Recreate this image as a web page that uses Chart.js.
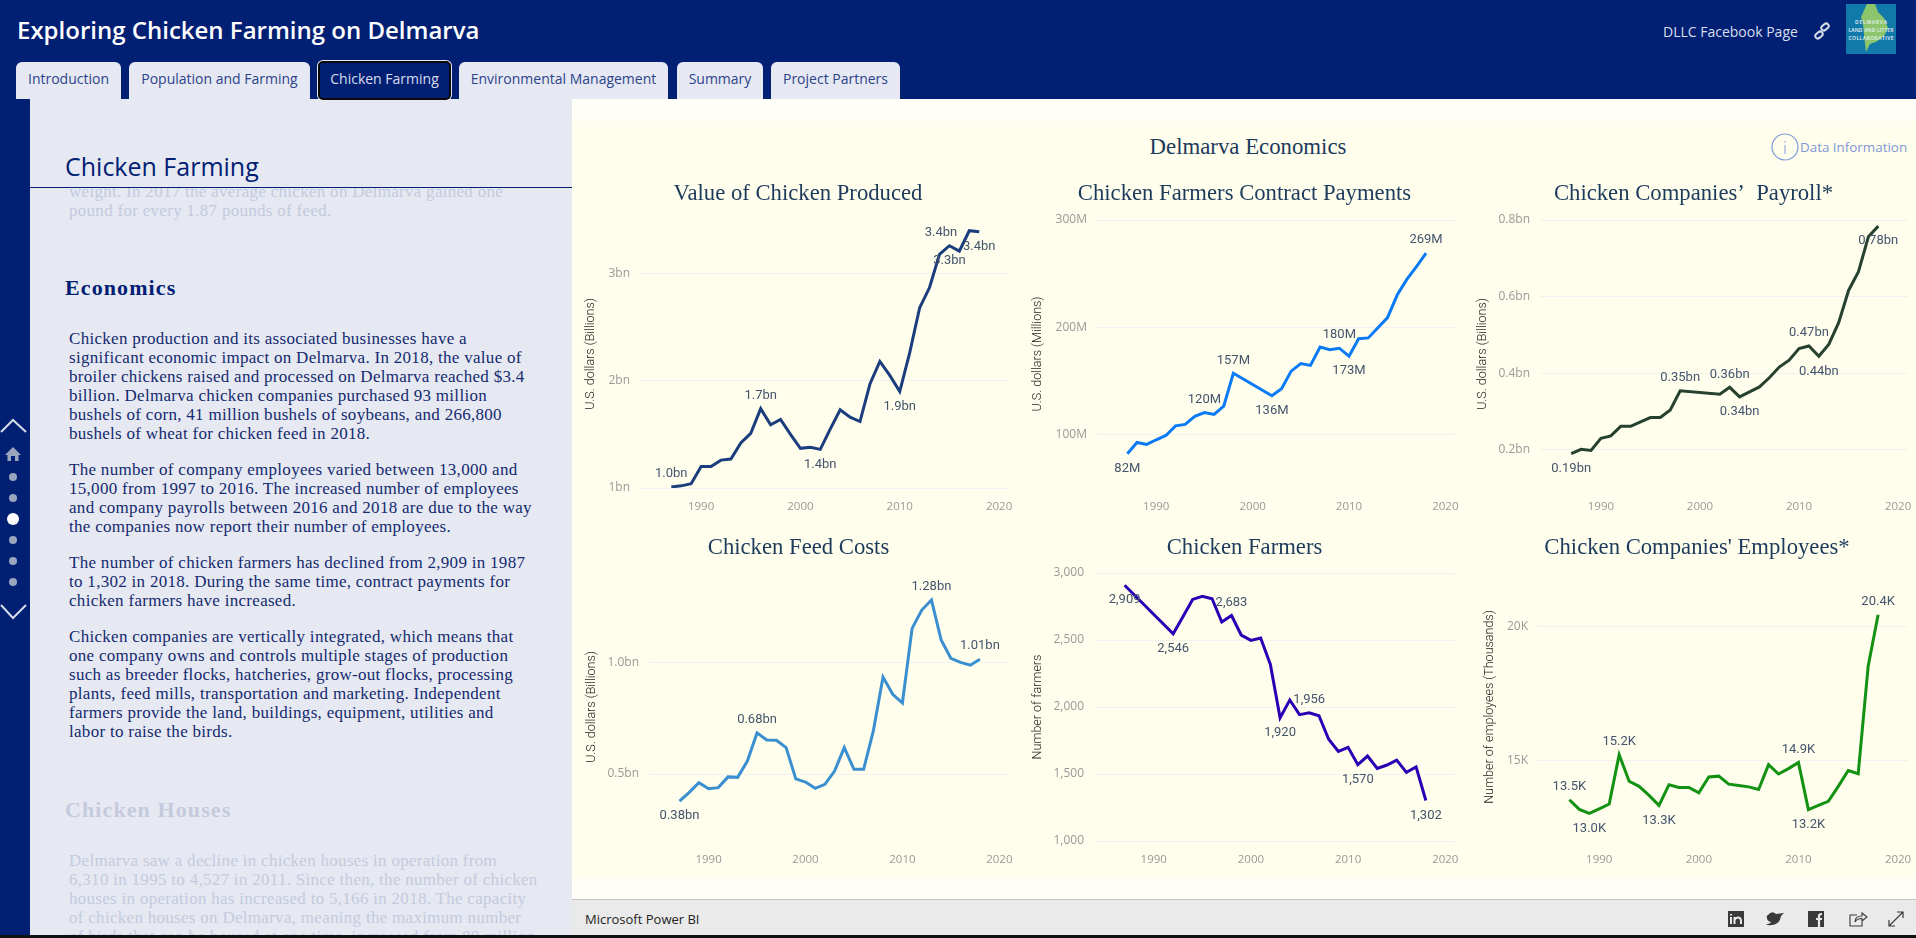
<!DOCTYPE html>
<html lang="en">
  <head>
    <meta charset="UTF-8" />
    <title>Exploring Chicken Farming on Delmarva</title>
    <style>
      html, body {
        margin: 0;
        width: 1916px;
        height: 938px;
        overflow: hidden;
        background: #fffff8;
        font-family: 'Open Sans', sans-serif;
      }
      .abs { position: absolute; white-space: nowrap; }
      #header { position: absolute; left: 0; top: 0; width: 1916px; height: 99px; background: #012074; }
      #title { left: 17px; top: 13px; font-size: 24px; font-weight: 600; color: #fff; line-height: 34px; }
      .tab {
        position: absolute; top: 62px; height: 37px; background: #e6e9f3; color: #2c4389;
        border-radius: 6px 6px 0 0; font-size: 14px; line-height: 33px; text-align: center; box-sizing: border-box;
      }
      .tab.on { top: 61px; height: 39px; background: #012074; color: #d8deee; border: 2px solid #0a0a0a; box-shadow: 0 0 0 1px #e6e9f3; border-radius: 5px; line-height: 32px; z-index: 3; }
      #sidebar { position: absolute; left: 0; top: 99px; width: 30px; height: 839px; background: #012074; }
      #textpanel { position: absolute; left: 30px; top: 99px; width: 542px; height: 836px; background: #e6e9f2; overflow: hidden; }
      #textpanel .t { position: absolute; left: 39px; white-space: nowrap; font-family: 'Liberation Serif', serif; font-size: 17px; letter-spacing: 0.29px; line-height: 19px; color: #14296f; }
      #textpanel .faded { color: #c5cadd; }
      #textpanel h3 { position: absolute; left: 35px; margin: 0; font-family: 'Liberation Serif', serif; font-size: 22px; font-weight: bold; letter-spacing: 1.1px; line-height: 24px; color: #012074; white-space: nowrap; }
      #panelhead { position: absolute; left: 0; top: 0; width: 542px; height: 88px; background: #e6e9f2; border-bottom: 1px solid #012074; }
      #panelhead div { position: absolute; left: 35px; top: 50px; font-size: 25px; line-height: 34px; color: #012074; }
      #cream { position: absolute; left: 572px; top: 121px; width: 1344px; height: 757px; background: #fffeec; }
      #footer { position: absolute; left: 572px; top: 899px; width: 1344px; height: 36px; background: #eaeaea; border-top: 1px solid #c6c6c6; box-sizing: border-box; }
      #blackline { position: absolute; left: 0; top: 935px; width: 1916px; height: 3px; background: #111; }
      canvas { position: absolute; }
      svg { position: absolute; }
    </style>
  </head>
  <body>
    <div id="header"></div>
    <div class="abs" id="title">Exploring Chicken Farming on Delmarva</div>
    <div class="tab" style="left:16px;width:105px">Introduction</div>
    <div class="tab" style="left:129px;width:181px">Population and Farming</div>
    <div class="tab on" style="left:318px;width:133px">Chicken Farming</div>
    <div class="tab" style="left:459px;width:209px">Environmental Management</div>
    <div class="tab" style="left:677px;width:86px">Summary</div>
    <div class="tab" style="left:771px;width:129px">Project Partners</div>
    <div class="abs" style="left:1663px;top:22px;font-size:14px;line-height:20px;color:#d9dfee">DLLC Facebook Page</div>
    <svg style="left:1813px;top:22px" width="18" height="18" viewBox="0 0 18 18" fill="none" stroke="#d5dbe8" stroke-width="2">
      <rect x="8" y="2.5" width="8" height="5" rx="2.5" transform="rotate(-40 12 5)" />
      <rect x="2" y="10.5" width="8" height="5" rx="2.5" transform="rotate(-40 6 13)" />
    </svg>
    <svg style="left:1846px;top:4px" width="50" height="50" viewBox="0 0 50 50">
      <rect width="50" height="50" fill="#1279ab" />
      <path d="M21 0 L29 0 L32 8 L38 14 L42 24 L38 32 L30 38 L24 40 L20 48 L19 40 L18 30 L17 20 L15 13 Z" fill="#8cc56c" />
      <g fill="#e8f2f4" font-family="Open Sans" font-size="5" font-weight="600" text-anchor="middle">
        <text x="25" y="20" textLength="32">DELMARVA</text>
        <text x="25" y="28" textLength="45">LAND AND LITTER</text>
        <text x="25" y="36" textLength="45">COLLABORATIVE</text>
      </g>
    </svg>

    <div id="sidebar"></div>
    <svg style="left:0;top:415px" width="30" height="210" viewBox="0 0 30 210">
      <path d="M1 17 L13 5 L26 17" fill="none" stroke="#d5dbe8" stroke-width="2" />
      <path d="M13 32 L21 40 L18.5 40 L18.5 46 L15 46 L15 41 L11 41 L11 46 L7.5 46 L7.5 40 L5 40 Z" fill="#9aa6bd" />
      <circle cx="13" cy="62" r="4" fill="#9aa6bd" />
      <circle cx="13" cy="83" r="4" fill="#9aa6bd" />
      <circle cx="13" cy="104" r="6" fill="#fff" />
      <circle cx="13" cy="125" r="4" fill="#9aa6bd" />
      <circle cx="13" cy="146" r="4" fill="#9aa6bd" />
      <circle cx="13" cy="167" r="4" fill="#9aa6bd" />
      <path d="M1 190 L13 203 L26 190" fill="none" stroke="#d5dbe8" stroke-width="2" />
    </svg>

    <div id="textpanel">
      <div class="t faded" style="top:83px">weight. In 2017 the average chicken on Delmarva gained one<br>pound for every 1.87 pounds of feed.</div>
      <h3 style="top:177px">Economics</h3>
      <div class="t" style="top:230px">Chicken production and its associated businesses have a<br>significant economic impact on Delmarva. In 2018, the value of<br>broiler chickens raised and processed on Delmarva reached $3.4<br>billion. Delmarva chicken companies purchased 93 million<br>bushels of corn, 41 million bushels of soybeans, and 266,800<br>bushels of wheat for chicken feed in 2018.</div>
      <div class="t" style="top:361px">The number of company employees varied between 13,000 and<br>15,000 from 1997 to 2016. The increased number of employees<br>and company payrolls between 2016 and 2018 are due to the way<br>the companies now report their number of employees.</div>
      <div class="t" style="top:454px">The number of chicken farmers has declined from 2,909 in 1987<br>to 1,302 in 2018. During the same time, contract payments for<br>chicken farmers have increased.</div>
      <div class="t" style="top:528px">Chicken companies are vertically integrated, which means that<br>one company owns and controls multiple stages of production<br>such as breeder flocks, hatcheries, grow-out flocks, processing<br>plants, feed mills, transportation and marketing. Independent<br>farmers provide the land, buildings, equipment, utilities and<br>labor to raise the birds.</div>
      <h3 style="top:699px;color:#c5cadd">Chicken Houses</h3>
      <div class="t faded" style="top:752px">Delmarva saw a decline in chicken houses in operation from<br>6,310 in 1995 to 4,527 in 2011. Since then, the number of chicken<br>houses in operation has increased to 5,166 in 2018. The capacity<br>of chicken houses on Delmarva, meaning the maximum number<br>of birds that can be housed at one time, increased from 80 million</div>
      <div id="panelhead"><div>Chicken Farming</div></div>
    </div>

    <div id="cream"></div>
    <div class="abs" style="left:1048px;width:400px;top:134px;text-align:center;font-family:'Liberation Serif',serif;font-size:22.8px;line-height:26px;color:#1c3a5c">Delmarva Economics</div>
    <svg style="left:1771px;top:133px" width="28" height="28" viewBox="0 0 28 28" fill="none" stroke="#7f9bd8">
      <circle cx="14" cy="14" r="13" stroke-width="1.2" />
      <path d="M14 12 L14 21 M14 8 L14 9.5" stroke-width="1" />
    </svg>
    <div class="abs" style="left:1800px;top:137px;font-size:13.4px;line-height:20px;color:#7f97d6">Data Information</div>

    <canvas id="chartValue"></canvas>
    <canvas id="chartPayments"></canvas>
    <canvas id="chartPayroll"></canvas>
    <canvas id="chartFeed"></canvas>
    <canvas id="chartFarmers"></canvas>
    <canvas id="chartEmployees"></canvas>

    <div id="footer"></div>
    <div class="abs" style="left:585px;top:910px;font-size:13px;line-height:18px;color:#222">Microsoft Power BI</div>
    <svg style="left:1726px;top:909px" width="180" height="20" viewBox="0 0 180 20">
      <rect x="2" y="2" width="16" height="16" fill="#3a3a3a" />
      <path d="M5 8 V15 M5 5 V6.4 M8.5 15 V8 M8.5 11 Q10 8 12.5 8.5 Q15 9 15 12 V15" fill="none" stroke="#eaeaea" stroke-width="2" />
      <path d="M42 6 Q46 1 50 5 L58 4 L55 7 Q54 15 46 16 Q42 17 40 15 Q44 15 45 13 Q41 12 41 9 Q40 7 42 6 Z" fill="#3a3a3a" />
      <rect x="82" y="2" width="16" height="16" fill="#3a3a3a" />
      <path d="M93 18 V10 H96 M90 10 H93 M93 10 V7 Q93 5 96 5" fill="none" stroke="#eaeaea" stroke-width="2.2" />
      <path d="M131 6 H124 V17 H136 V12 M129 13 Q129 7 136 7 V4 L141 8 L136 12 V9.5 Q131 9.5 129 13" fill="none" stroke="#3a3a3a" stroke-width="1.1" />
      <path d="M163 17 L177 3 M171 3 H177 V9 M163 11 V17 H169" fill="none" stroke="#3a3a3a" stroke-width="1.2" />
    </svg>
    <div id="blackline"></div>

    <script src="https://cdn.jsdelivr.net/npm/chart.js"></script>
    <script>
      const years = [1987, 1988, 1989, 1990, 1991, 1992, 1993, 1994, 1995, 1996, 1997, 1998, 1999, 2000, 2001, 2002,
        2003, 2004, 2005, 2006, 2007, 2008, 2009, 2010, 2011, 2012, 2013, 2014, 2015, 2016, 2017, 2018];
      const yearTicks = [1990, 2000, 2010, 2020];

      // billions
      const valueProduced = [1.01, 1.02, 1.04, 1.20, 1.20, 1.26, 1.27, 1.42, 1.51, 1.74, 1.59, 1.64, 1.50, 1.37, 1.38, 1.36,
        1.55, 1.73, 1.66, 1.62, 1.97, 2.18, 2.05, 1.90, 2.26, 2.68, 2.87, 3.18, 3.26, 3.21, 3.40, 3.39];
      const valueTicks = [1, 2, 3];
      const valueTickLabels = ['1bn', '2bn', '3bn'];
      const valueAbove = [1987, 1996];
      const valueBelow = [2002, 2010, 2015, 2018];
      const valueLeft = [2017];

      // millions, 1999-2001 not reported
      const contractPayments = [82, 92.5, 90.7, 95, 99, 108, 109.3, 116.8, 120.4, 118.7, 126.4, 157, null, null, null, 136,
        142.6, 159, 166, 164.4, 181.5, 179, 180.4, 173, 189.3, 190, 199.5, 208.9, 230, 244.6, 256.5, 269];
      const paymentTicks = [100, 200, 300];
      const paymentTickLabels = ['100M', '200M', '300M'];
      const paymentAbove = [1995, 1998, 2009, 2018];
      const paymentBelow = [1987, 2002, 2010];

      // billions
      const payroll = [0.19, 0.201, 0.198, 0.23, 0.236, 0.261, 0.261, 0.273, 0.284, 0.284, 0.304, 0.354, null, null, null, 0.345,
        0.363, 0.338, 0.351, 0.364, 0.388, 0.416, 0.434, 0.464, 0.471, 0.444, 0.475, 0.532, 0.616, 0.665, 0.756, 0.784];
      const payrollTicks = [0.2, 0.4, 0.6, 0.8];
      const payrollTickLabels = ['0.2bn', '0.4bn', '0.6bn', '0.8bn'];
      const payrollAbove = [1998, 2003, 2011];
      const payrollBelow = [1987, 2004, 2012, 2018];

      // billions
      const feedCosts = [0.379, 0.418, 0.461, 0.434, 0.439, 0.487, 0.485, 0.558, 0.684, 0.652, 0.651, 0.618, 0.478, 0.464, 0.436, 0.454,
        0.513, 0.618, 0.521, 0.521, 0.693, 0.934, 0.857, 0.818, 1.152, 1.234, 1.279, 1.10, 1.018, 1.0, 0.987, 1.014];
      const feedTicks = [0.5, 1.0];
      const feedTickLabels = ['0.5bn', '1.0bn'];
      const feedAbove = [1995, 2013, 2018];
      const feedBelow = [1987];

      // 1988-1991 not reported
      const farmers = [2909, null, null, null, null, 2546, 2674, 2803, 2826, 2808, 2634, 2683, 2537, 2497, 2515, 2318,
        1920, 2052, 1943, 1956, 1935, 1759, 1669, 1699, 1570, 1634, 1542, 1567, 1604, 1512, 1552, 1302];
      const farmerTicks = [1000, 1500, 2000, 2500, 3000];
      const farmerTickLabels = ['1,000', '1,500', '2,000', '2,500', '3,000'];
      const farmerAbove = [1998, 2006];
      const farmerBelow = [1987, 1992, 2003, 2011, 2018];

      // thousands
      const employees = [13.54, 13.18, 13.03, 13.2, 13.38, 15.22, 14.23, 14.04, 13.7, 13.33, 14.1, 14.0, 14.0, 13.8, 14.39, 14.42,
        14.12, 14.07, 14.02, 13.92, 14.85, 14.5, 14.7, 14.93, 13.17, 13.33, 13.48, 14.04, 14.63, 14.51, 18.52, 20.44];
      const employeeTicks = [15, 20];
      const employeeTickLabels = ['15K', '20K'];
      const employeeAbove = [1987, 1992, 2010, 2018];
      const employeeBelow = [1989, 1996, 2011];

      const xMin = 1983.85;
      const xMax = 2021;

      const sansFont = 'Roboto';
      const titleFont = 'Liberation Serif';

      // prints the value labels next to the picked years
      const valueLabelPlugin = {
        id: 'valueLabels',
        afterDatasetsDraw(chart, args, opts) {
          const { ctx, scales } = chart;
          const data = chart.data.datasets[0].data;
          const put = (list, side) => {
            list.forEach((year) => {
              const point = data[years.indexOf(year)];
              const x = scales.x.getPixelForValue(point.x);
              const y = scales.y.getPixelForValue(point.y);
              ctx.textBaseline = 'middle';
              ctx.textAlign = side === 'left' ? 'right' : 'center';
              const text = opts.format(point.y);
              if (side === 'above') ctx.fillText(text, x, y - 13);
              if (side === 'below') ctx.fillText(text, x, y + 15);
              if (side === 'left') ctx.fillText(text, x - 12, y + 2);
            });
          };
          ctx.save();
          ctx.font = '13px ' + sansFont;
          ctx.fillStyle = '#43546c';
          put(opts.above || [], 'above');
          put(opts.below || [], 'below');
          put(opts.left || [], 'left');
          ctx.restore();
        },
      };

      const makeChart = (id, frame, c) => {
        const canvas = document.getElementById(id);
        canvas.width = frame.w;
        canvas.height = frame.h;
        canvas.style.left = frame.x + 'px';
        canvas.style.top = frame.y + 'px';
        new Chart(canvas, {
          type: 'line',
          data: {
            datasets: [{
              data: years.map((year, i) => ({ x: year, y: c.values[i] })),
              borderColor: c.color,
              borderWidth: 3,
              pointRadius: 0,
              tension: 0,
              spanGaps: true,
            }],
          },
          plugins: [valueLabelPlugin],
          options: {
            responsive: false,
            animation: false,
            events: [],
            // same padding both sides keeps the title centred on the canvas
            layout: { padding: { left: 8, right: 8 } },
            plugins: {
              legend: { display: false },
              tooltip: { enabled: false },
              title: {
                display: true,
                text: c.title,
                color: '#1c3a5c',
                font: { family: titleFont, size: 22.7, weight: 'normal', lineHeight: 1.2 },
                padding: { top: frame.titleTop, bottom: frame.titleGap },
              },
              valueLabels: { format: c.format, above: c.above, below: c.below, left: c.left },
            },
            scales: {
              x: {
                type: 'linear',
                min: xMin,
                max: xMax,
                grid: { display: false },
                border: { display: false },
                afterBuildTicks: (axis) => { axis.ticks = yearTicks.map((value) => ({ value })); },
                afterFit: (axis) => { axis.height = 24; },
                ticks: {
                  color: '#999',
                  font: { family: 'Open Sans', size: 11.5 },
                  padding: 4,
                  maxRotation: 0,
                  autoSkip: false,
                  callback: (v) => String(v),
                },
              },
              y: {
                min: c.min,
                max: c.max,
                grid: { color: '#f1f1ef', drawTicks: false },
                border: { display: false },
                afterBuildTicks: (axis) => { axis.ticks = c.ticks.map((value) => ({ value })); },
                afterFit: (axis) => { axis.width = frame.axisW - 8; },
                title: {
                  display: true,
                  text: c.axisTitle,
                  color: '#222',
                  font: { family: sansFont, size: 12.5, weight: 300 },
                  padding: { top: -4, bottom: 0 },
                },
                ticks: {
                  color: '#999',
                  font: { family: 'Open Sans', size: 12 },
                  padding: 10,
                  autoSkip: false,
                  callback: (v) => c.tickLabels[c.ticks.indexOf(v)],
                },
              },
            },
          },
        });
      };

      const toBn1 = (v) => v.toFixed(1) + 'bn';
      const toBn2 = (v) => v.toFixed(2) + 'bn';
      const toM = (v) => v.toFixed(0) + 'M';
      const toK = (v) => v.toFixed(1) + 'K';
      const toCount = (v) => v.toLocaleString('en-US');

      makeChart('chartValue', { x: 579, y: 180, w: 438, h: 332, axisW: 61, titleTop: 0, titleGap: 12.76 }, {
        title: 'Value of Chicken Produced', axisTitle: 'U.S. dollars (Billions)', values: valueProduced, color: '#1b3d7d',
        min: 1, max: 3.5, ticks: valueTicks, tickLabels: valueTickLabels, format: toBn1, above: valueAbove, below: valueBelow, left: valueLeft,
      });
      makeChart('chartPayments', { x: 1026, y: 180, w: 437, h: 332, axisW: 71, titleTop: 0, titleGap: 12.76 }, {
        title: 'Chicken Farmers Contract Payments', axisTitle: 'U.S. dollars (Millions)', values: contractPayments, color: '#0a7bf5',
        min: 50, max: 300, ticks: paymentTicks, tickLabels: paymentTickLabels, format: toM, above: paymentAbove, below: paymentBelow,
      });
      makeChart('chartPayroll', { x: 1471, y: 180, w: 445, h: 332, axisW: 69, titleTop: 0, titleGap: 12.76 }, {
        title: 'Chicken Companies’  Payroll*', axisTitle: 'U.S. dollars (Billions)', values: payroll, color: '#26412f',
        min: 0.1, max: 0.8, ticks: payrollTicks, tickLabels: payrollTickLabels, format: toBn2, above: payrollAbove, below: payrollBelow,
      });
      makeChart('chartFeed', { x: 580, y: 533, w: 437, h: 332, axisW: 69, titleTop: 1.2, titleGap: 11.56 }, {
        title: 'Chicken Feed Costs', axisTitle: 'U.S. dollars (Billions)', values: feedCosts, color: '#3a8fd0',
        min: 0.2, max: 1.4, ticks: feedTicks, tickLabels: feedTickLabels, format: toBn2, above: feedAbove, below: feedBelow,
      });
      makeChart('chartFarmers', { x: 1026, y: 533, w: 437, h: 332, axisW: 68, titleTop: 1.2, titleGap: 11.56 }, {
        title: 'Chicken Farmers', axisTitle: 'Number of farmers', values: farmers, color: '#2a00b5',
        min: 1000, max: 3000, ticks: farmerTicks, tickLabels: farmerTickLabels, format: toCount, above: farmerAbove, below: farmerBelow,
      });
      makeChart('chartEmployees', { x: 1478, y: 533, w: 438, h: 332, axisW: 60, titleTop: 1.2, titleGap: 11.56 }, {
        title: "Chicken Companies' Employees*", axisTitle: 'Number of employees (Thousands)', values: employees, color: '#129112',
        min: 12, max: 22, ticks: employeeTicks, tickLabels: employeeTickLabels, format: toK, above: employeeAbove, below: employeeBelow,
      });
    </script>
  </body>
</html>
